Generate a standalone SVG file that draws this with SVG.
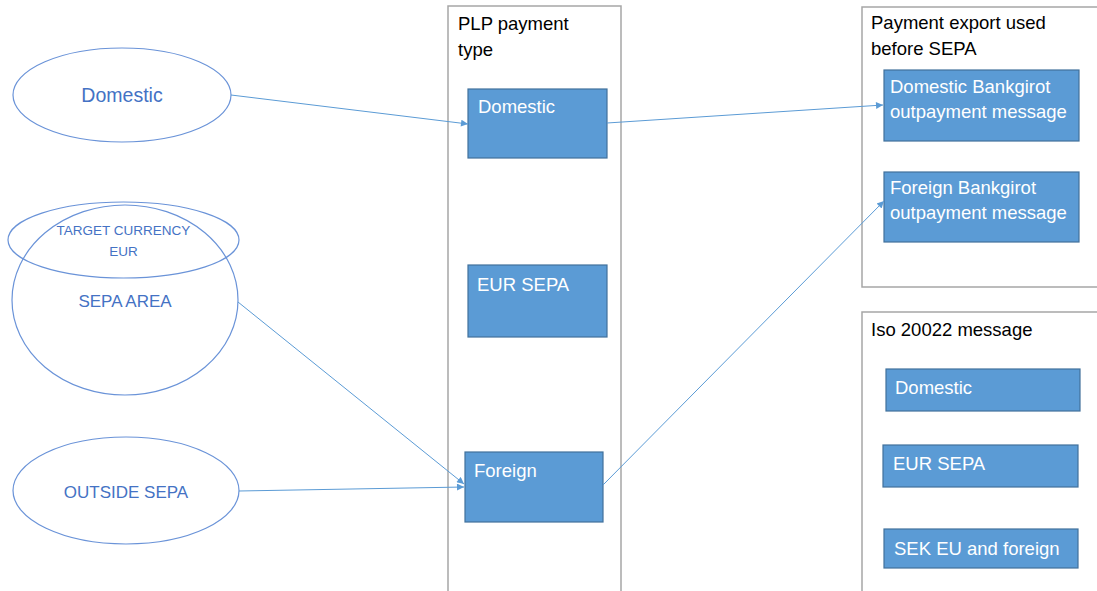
<svg xmlns="http://www.w3.org/2000/svg" width="1097" height="591" viewBox="0 0 1097 591">
<style>
.ell{fill:none;stroke:#6a93d8;stroke-width:1.2}
.et{fill:#4472c4;font-family:"Liberation Sans",Arial,sans-serif;text-anchor:middle}
.cont{fill:#fff;stroke:#a6a6a6;stroke-width:1.5}
.ct{fill:#000;font-family:"Liberation Sans",Arial,sans-serif;font-size:18.5px}
.box{fill:#5b9bd5;stroke:#41719c;stroke-width:1.2}
.bt{fill:#fff;font-family:"Liberation Sans",Arial,sans-serif;font-size:18.5px}
.con{fill:none;stroke:#5b9bd5;stroke-width:1}
</style>
<defs>
<marker id="ah" viewBox="0 0 10 10" refX="10" refY="5" markerWidth="9" markerHeight="7" markerUnits="userSpaceOnUse" orient="auto">
<path d="M0,0 L10,5 L0,10 z" fill="#5b9bd5"/>
</marker>
</defs>
<rect width="1097" height="591" fill="#fff"/>

<g id="plp-container">
<rect class="cont" x="448" y="6" width="173" height="600"/>
<text class="ct" x="458" y="30">PLP payment</text>
<text class="ct" x="458" y="56">type</text>
</g>
<g id="export-container">
<rect class="cont" x="862" y="7" width="250" height="280"/>
<text class="ct" x="871" y="29">Payment export used</text>
<text class="ct" x="871" y="55">before SEPA</text>
</g>
<g id="iso-container">
<rect class="cont" x="862" y="312" width="250" height="300"/>
<text class="ct" x="871" y="336">Iso 20022 message</text>
</g>

<g id="ell-domestic">
<ellipse class="ell" cx="122" cy="95" rx="109" ry="47"/>
<text class="et" x="122" y="102" font-size="19.5">Domestic</text>
</g>
<g id="ell-sepa-area">
<ellipse class="ell" cx="125" cy="300" rx="113" ry="95"/>
<text class="et" x="125" y="307" font-size="17">SEPA AREA</text>
</g>
<g id="ell-target-currency">
<ellipse class="ell" cx="123.5" cy="240" rx="115.5" ry="38"/>
<text class="et" x="123.5" y="235" font-size="13.5">TARGET CURRENCY</text>
<text class="et" x="123.5" y="256" font-size="13.5">EUR</text>
</g>
<g id="ell-outside-sepa">
<ellipse class="ell" cx="126" cy="490.5" rx="113" ry="53.5"/>
<text class="et" x="126" y="498" font-size="17">OUTSIDE SEPA</text>
</g>

<g id="plp-domestic">
<rect class="box" x="468" y="89" width="139" height="69"/>
<text class="bt" x="478" y="113">Domestic</text>
</g>
<g id="plp-eur-sepa">
<rect class="box" x="468" y="265" width="139" height="72"/>
<text class="bt" x="477" y="291" font-size="17">EUR SEPA</text>
</g>
<g id="plp-foreign">
<rect class="box" x="465" y="452" width="138" height="70"/>
<text class="bt" x="474" y="477">Foreign</text>
</g>

<g id="bg-domestic">
<rect class="box" x="884" y="70" width="195" height="71"/>
<text class="bt" x="890" y="93">Domestic Bankgirot</text>
<text class="bt" x="890" y="118">outpayment message</text>
</g>
<g id="bg-foreign">
<rect class="box" x="884" y="172" width="195" height="70"/>
<text class="bt" x="890" y="194">Foreign Bankgirot</text>
<text class="bt" x="890" y="219">outpayment message</text>
</g>

<g id="iso-domestic">
<rect class="box" x="886" y="369" width="194" height="42"/>
<text class="bt" x="895" y="394">Domestic</text>
</g>
<g id="iso-eur-sepa">
<rect class="box" x="883" y="445" width="195" height="42"/>
<text class="bt" x="893" y="470" font-size="17">EUR SEPA</text>
</g>
<g id="iso-sek">
<rect class="box" x="884" y="529" width="194" height="39"/>
<text class="bt" x="894" y="555">SEK EU and foreign</text>
</g>

<g id="connectors">
<line class="con" x1="231" y1="95" x2="468" y2="124" marker-end="url(#ah)"/>
<line class="con" x1="607" y1="123" x2="883" y2="105" marker-end="url(#ah)"/>
<line class="con" x1="238" y1="302" x2="464" y2="484" marker-end="url(#ah)"/>
<line class="con" x1="239" y1="491" x2="464" y2="487" marker-end="url(#ah)"/>
<line class="con" x1="603" y1="485" x2="884" y2="201" marker-end="url(#ah)"/>
</g>
</svg>
